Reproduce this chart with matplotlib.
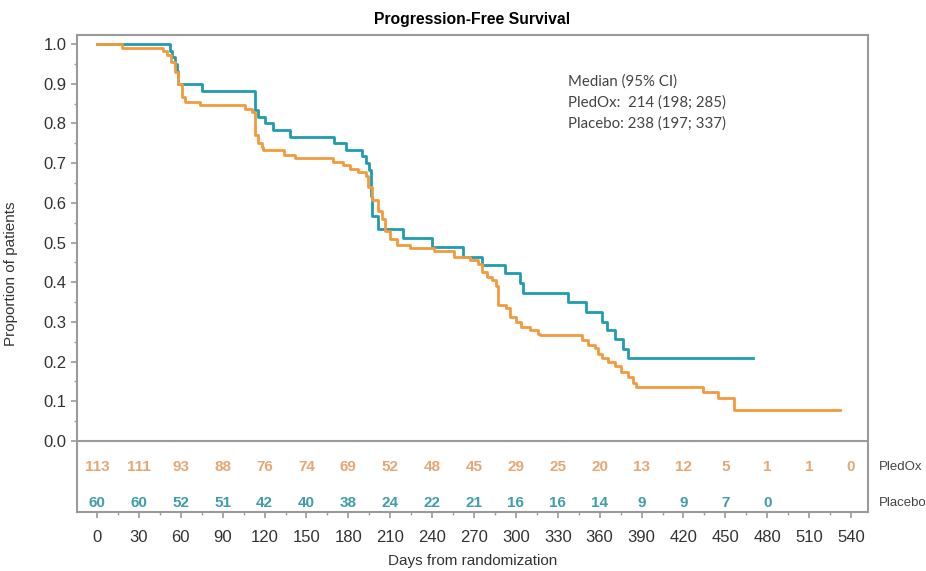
"""Progression-Free Survival Kaplan-Meier chart with at-risk table."""

import matplotlib

matplotlib.use("Agg")
import matplotlib.pyplot as plt
from matplotlib.ticker import MultipleLocator, FixedLocator

plt.rcParams["font.family"] = ["Liberation Sans", "DejaVu Sans"]

# Kaplan-Meier steps (day, survival after the step)
PLACEBO_DAYS = [0, 52, 54, 56, 57, 58, 75, 113, 115, 120, 126, 138, 170, 178, 190,
                193, 195, 196, 197, 201, 219, 240, 262, 276, 292, 303, 305, 337,
                350, 362, 365, 371, 377, 380, 470]
PLACEBO_SURV = [1.0, 0.983, 0.967, 0.95, 0.933, 0.9, 0.883, 0.833, 0.817, 0.80,
                0.783, 0.767, 0.75, 0.733, 0.717, 0.70, 0.683, 0.617, 0.567, 0.533,
                0.511, 0.489, 0.464, 0.443, 0.423, 0.398, 0.373, 0.35, 0.326, 0.30,
                0.279, 0.256, 0.232, 0.209, 0.209]

PLEDOX_DAYS = [0, 18, 47, 50, 53, 56, 58, 61, 63, 74, 106, 111, 113, 115, 118, 119,
               134, 142, 169, 176, 181, 187, 193, 194, 197, 201, 204, 206, 210, 215,
               224, 241, 256, 267, 273, 276, 279, 283, 286, 287, 293, 296, 300, 304,
               310, 316, 317, 347, 352, 357, 359, 362, 366, 371, 375, 380, 384, 386,
               434, 445, 456, 532]
PLEDOX_SURV = [1.0, 0.991, 0.982, 0.973, 0.956, 0.93, 0.90, 0.866, 0.854, 0.846,
               0.837, 0.828, 0.77, 0.75, 0.741, 0.733, 0.72, 0.712, 0.703, 0.695,
               0.686, 0.677, 0.668, 0.64, 0.607, 0.58, 0.56, 0.53, 0.51, 0.494,
               0.486, 0.478, 0.464, 0.456, 0.447, 0.426, 0.413, 0.405, 0.39, 0.343,
               0.335, 0.312, 0.30, 0.287, 0.279, 0.27, 0.266, 0.254, 0.242, 0.234,
               0.22, 0.21, 0.20, 0.19, 0.174, 0.161, 0.146, 0.137, 0.124, 0.108,
               0.078, 0.078]

# Numbers at risk
RISK_DAYS = list(range(0, 541, 30))
PLEDOX_AT_RISK = [113, 111, 93, 88, 76, 74, 69, 52, 48, 45, 29, 25, 20, 13, 12, 5, 1, 1, 0]
PLACEBO_AT_RISK = [60, 60, 52, 51, 42, 40, 38, 24, 22, 21, 16, 16, 14, 9, 9, 7, 0]

MEDIAN_LINES = ["Median (95% CI)", "PledOx:  214 (198; 285)", "Placebo: 238 (197; 337)"]

ORANGE = "#f29a3c"
TEAL = "#1f9db0"
GRAY = "#9a9a9a"

fig = plt.figure(figsize=(9.26, 5.71), dpi=100)
ax = fig.add_axes([0.0832, 0.1033, 0.8542, 0.8354])

ax.step(PLACEBO_DAYS, PLACEBO_SURV, where="post", color=TEAL, lw=2.0)
ax.step(PLEDOX_DAYS, PLEDOX_SURV, where="post", color=ORANGE, lw=2.0)

ax.set_xlim(-14.3, 552.2)
ax.set_ylim(-0.179, 1.023)
ax.axhline(0.0, color=GRAY, lw=1.5)

for spine in ax.spines.values():
    spine.set_color(GRAY)
    spine.set_linewidth(1.5)

ax.yaxis.set_major_locator(FixedLocator([i / 10 for i in range(11)]))
ax.yaxis.set_minor_locator(FixedLocator([0.05 + i / 10 for i in range(10)]))
ax.set_yticklabels([f"{i / 10:.1f}" for i in range(11)])
ax.xaxis.set_major_locator(MultipleLocator(30))
ax.xaxis.set_minor_locator(MultipleLocator(15))
ax.set_xticks(RISK_DAYS)
ax.tick_params(axis="both", which="major", direction="out", length=4, width=1.2,
               color=GRAY, labelsize=12, labelcolor="#333333")
ax.tick_params(axis="x", which="major", pad=9)
ax.tick_params(axis="both", which="minor", direction="out", length=2, width=1.0, color=GRAY)

ax.set_title("Progression-Free Survival", fontsize=11.3, fontweight="bold", pad=8)
ax.set_xlabel("Days from randomization", fontsize=11, color="#333333", labelpad=6.5)
ax.set_ylabel("Proportion of patients", fontsize=11, color="#333333")
ax.yaxis.set_label_coords(-0.075, 0.5)

for day, n in zip(RISK_DAYS, PLEDOX_AT_RISK):
    ax.text(day, -0.066, str(n), ha="center", va="center", fontsize=11,
            color="#e8a672", fontweight="bold")
for day, n in zip(RISK_DAYS, PLACEBO_AT_RISK):
    ax.text(day, -0.156, str(n), ha="center", va="center", fontsize=11,
            color="#3f9ea8", fontweight="bold")

ax.text(1.014, -0.066, "PledOx", transform=ax.get_yaxis_transform(), ha="left",
        va="center", fontsize=9.5, color="#444444")
ax.text(1.014, -0.156, "Placebo", transform=ax.get_yaxis_transform(), ha="left",
        va="center", fontsize=9.5, color="#444444")

for i, line in enumerate(MEDIAN_LINES):
    ax.text(337, 0.905 - i * 0.053, line, ha="left", va="center", fontsize=10.8,
            color="#444444", family=["Lato", "DejaVu Sans"])

fig.savefig("out.png", dpi=100)
